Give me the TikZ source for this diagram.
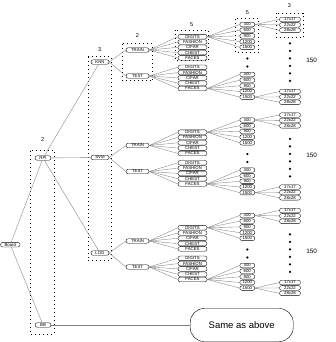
\documentclass[tikz,border=0pt]{standalone}
\usepackage{fontspec}
\setmainfont{Liberation Sans}
\tikzset{
  pill/.style={draw=black, line width=0.35pt, fill=white, rounded corners=2.2pt,
    inner sep=0pt, minimum height=4.6pt, font=\fontsize{4.3}{4.5}\selectfont},
  lnk/.style={draw=black!50, line width=0.35pt},
  dotbox/.style={draw=black, line width=1pt, dash pattern=on 1pt off 3pt},
  cnt/.style={inner sep=0pt, font=\fontsize{5.5}{6}\selectfont},
  bigcnt/.style={inner sep=0pt, font=\fontsize{6.3}{7}\selectfont},
  bigdot/.style={circle, fill=black, inner sep=0pt, minimum size=2.4pt},
  bigbox/.style={draw=black, line width=0.4pt, fill=white, rounded corners=14pt,
    minimum width=103pt, minimum height=33pt, font=\fontsize{9.5}{11}\selectfont},
}
\begin{document}
\begin{tikzpicture}[x=1pt, y=-1pt]
\useasboundingbox (0,0) rectangle (335,342);
% dotted group boxes
\draw[dotbox] (30.7,150.7) rectangle (54.3,334);
\draw[dotbox] (88,57) rectangle (111,260.7);
\draw[dotbox] (122.7,44) rectangle (152.3,81);
\draw[dotbox] (175.3,30.3) rectangle (208.3,60.7);
\draw[dotbox] (235.3,19) rectangle (258.7,52.7);
\draw[dotbox] (276,13.3) rectangle (303.3,37.7);
% group counts
\node[cnt] (c2a) at (42.7,140) {2};
\node[cnt] (c3a) at (99.7,50) {3};
\node[cnt] (c2b) at (137.3,36) {2};
\node[cnt] (c5a) at (191.7,24.3) {5};
\node[cnt] (c5b) at (247.3,12.7) {5};
\node[cnt] (c3b) at (289.3,6) {3};
% root levels
\node[pill, minimum width=19.5pt] (board) at (10.3,244.7) {Board};
\node[pill, minimum width=16pt] (rpi) at (43,158) {RPI};
\node[pill, minimum width=16pt] (bb) at (43,325) {BB};
\node[bigbox] (same) at (241.7,325) {Same as above};
\draw[lnk] (board) -- (rpi);
\draw[lnk] (board) -- (bb);
\draw[lnk] (bb.east) -- (same.west);
\foreach \c/\B/\t in {knn/62/KNN, svm/157.5/SVM, log/253/LOG} {
  \node[pill, minimum width=18pt] (\c) at (100,\B) {\t};
  \draw[lnk] (rpi) -- (\c);
  \node[pill, minimum width=23pt] (\c-train) at (137.5,{\B-12}) {TRAIN};
  \node[pill, minimum width=23pt] (\c-test) at (137.5,{\B+14}) {TEST};
  \draw[lnk] (\c.east) -- (\c-train.west);
  \draw[lnk] (\c.east) -- (\c-test.west);
  \foreach \n [count=\k from 0] in {DIGITS,FASHION,CIFAR,CHEST,FACES} {
    \node[pill, minimum width=29pt] (\c-train-d\k) at (192.5,{\B-25.3+5.3*\k}) {\n};
    \node[pill, minimum width=29pt] (\c-test-d\k) at (192.5,{\B+5.3+5.3*\k}) {\n};
    \draw[lnk] (\c-train.east) -- (\c-train-d\k.west);
    \draw[lnk] (\c-test.east) -- (\c-test-d\k.west);
  }
  \foreach \s [count=\k from 0] in {300,600,900,1200,1500} {
    \node[pill, minimum width=15pt] (\c-train-s\k) at (247.3,{\B-37.5+5.7*\k}) {\s};
    \node[pill, minimum width=15pt] (\c-test-s\k) at (247.3,{\B+12.5+5.65*\k}) {\s};
    \draw[lnk] (\c-train-d0.east) -- (\c-train-s\k.west);
    \draw[lnk] (\c-test-d4.east) -- (\c-test-s\k.west);
  }
  \foreach \r [count=\k from 0] in {17x17,22x22,28x28} {
    \node[pill, minimum width=21pt] (\c-rt\k) at (290,{\B-42.5+5.4*\k}) {\r};
    \node[pill, minimum width=21pt] (\c-rb\k) at (290,{\B+29.5+5.4*\k}) {\r};
    \draw[lnk] (\c-train-s0.east) -- (\c-rt\k.west);
    \draw[lnk] (\c-test-s4.east) -- (\c-rb\k.west);
  }
  \node[bigdot] (\c-sd0) at (247.3,{\B-3.5}) {};
  \node[bigdot] (\c-sd1) at (247.3,{\B+4.5}) {};
  \foreach \k in {0,...,5} {
    \node[bigdot] (\c-rd\k) at (290,{\B-18.6+7.5*\k}) {};
  }
  \node[bigcnt] (\c-n) at (311.7,{\B-2}) {150};
}
\end{tikzpicture}
\end{document}
